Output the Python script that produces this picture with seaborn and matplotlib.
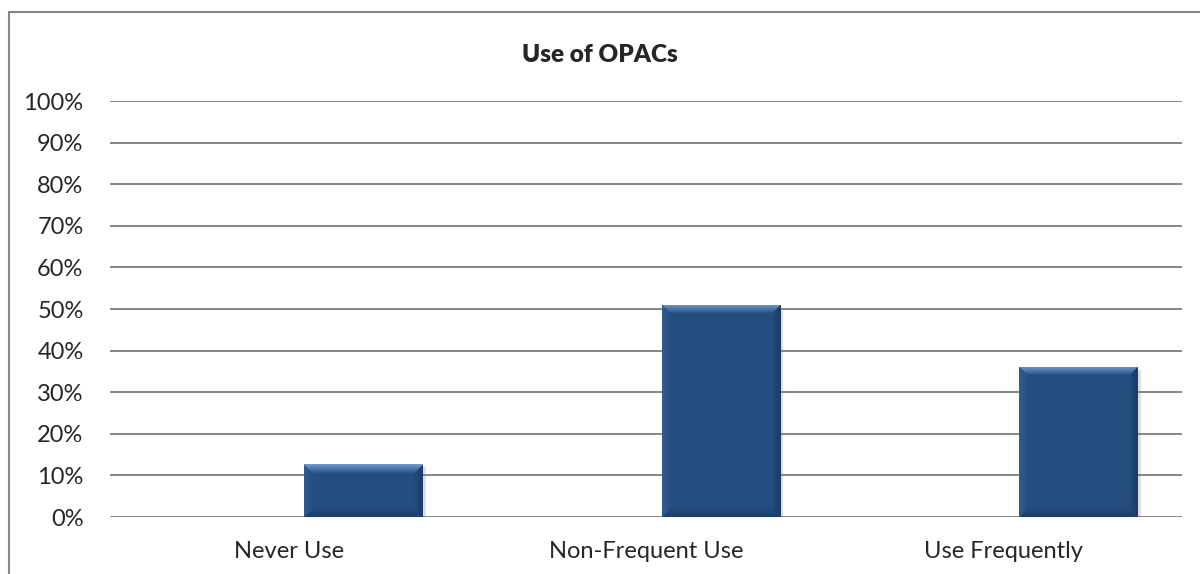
import matplotlib
matplotlib.use("Agg")
import matplotlib.pyplot as plt
import matplotlib.patheffects as pe
from matplotlib.lines import Line2D
from matplotlib.ticker import PercentFormatter
import seaborn as sns
import numpy as np
import pandas as pd

categories = ["Never Use", "Non-Frequent Use", "Use Frequently"]
shares = [0.127, 0.51, 0.361]
yticks = [i / 10 for i in range(11)]

df = pd.DataFrame({"Usage": categories, "Share": shares})

sns.set_style("white")
plt.rcParams["font.family"] = ["Lato", "DejaVu Sans"]

fig = plt.figure(figsize=(12, 5.74), dpi=100)
ax = fig.add_axes([110 / 1200, 1 - 517 / 574, 1072 / 1200, 416 / 574])

base = np.array([37, 78, 128]) / 255
sns.barplot(data=df, x="Usage", y="Share", width=0.333, color=base,
            saturation=1, ax=ax, zorder=3)

ax.set_xlim(-0.5, 2.5)
ax.set_ylim(0, 1)

# Excel style: bar sits right of the category centre
for p in ax.patches:
    p.set_x(p.get_x() + 0.21)
    p.set_linewidth(0)
    p.set_path_effects([pe.SimplePatchShadow(offset=(2, -2), alpha=0.25,
                                             shadow_rgbFace="gray"), pe.Normal()])

# bevel shading drawn over each bar
light = np.array([110, 152, 205]) / 255
dark_r = np.array([28, 60, 100]) / 255
dark_l = np.array([48, 92, 145]) / 255
dark_b = np.array([30, 64, 105]) / 255
bev = 9
for p in ax.patches:
    x0, w, h = p.get_x(), p.get_width(), p.get_height()
    hp, wp = max(int(h * 416), 2), 119
    yy, xx = np.mgrid[0:hp, 0:wp]
    d = np.stack([yy, xx, wp - 1 - xx, hp - 1 - yy])
    k = d.argmin(axis=0)
    dm = d.min(axis=0)
    img = np.tile(base, (hp, wp, 1))
    for i, c in enumerate([light, dark_l, dark_r, dark_b]):
        m = (k == i) & (dm < bev)
        t = (1 - dm[m] / bev)[:, None]
        img[m] = base * (1 - t) + c * t
    im = ax.imshow(img, extent=(x0, x0 + w, 0, h), aspect="auto",
                   origin="upper", zorder=4, interpolation="bilinear")
    im.set_clip_path(p)

ax.set_xlim(-0.5, 2.5)
ax.set_ylim(0, 1)
ax.set_yticks(yticks)
ax.yaxis.set_major_formatter(PercentFormatter(1, decimals=0))
ax.grid(axis="y", color="#868686", linewidth=1.4, zorder=0)
ax.grid(axis="x", visible=False)
ax.set_axisbelow(True)
for s in ax.spines.values():
    s.set_visible(False)
ax.tick_params(axis="y", length=0, pad=19, labelsize=17)
ax.tick_params(axis="x", length=0, pad=17, labelsize=17)
ax.set_xlabel("")
ax.set_ylabel("")

fig.text(0.5, 1 - 55 / 574, "Use of OPACs", ha="center", va="center",
         fontsize=17.5, fontweight="heavy")

# chart area border (cut off at right and bottom)
fig.add_artist(Line2D([8.5 / 1200, 8.5 / 1200], [0, 1 - 11.5 / 574],
                      color="#868686", linewidth=1.5, transform=fig.transFigure))
fig.add_artist(Line2D([8.5 / 1200, 1], [1 - 11.5 / 574, 1 - 11.5 / 574],
                      color="#868686", linewidth=1.5, transform=fig.transFigure))

fig.savefig("out.png", dpi=100)
